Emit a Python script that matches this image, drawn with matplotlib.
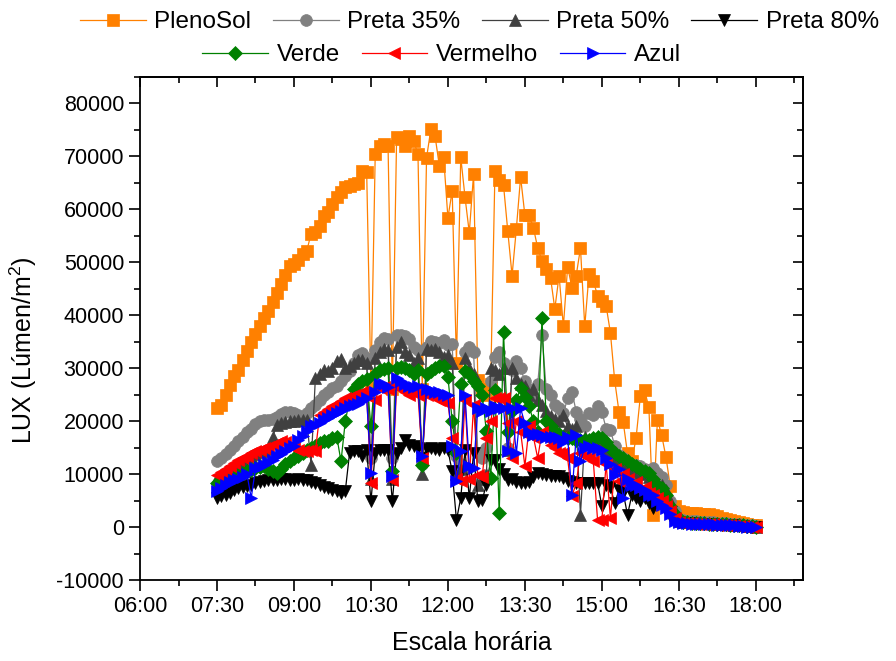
import numpy as np
import matplotlib
matplotlib.use("Agg")
import matplotlib.pyplot as plt
from matplotlib.ticker import MultipleLocator, FuncFormatter, NullFormatter

plt.rcParams['font.family'] = ['Liberation Sans', 'DejaVu Sans']
plt.rcParams['mathtext.fontset'] = 'custom'
plt.rcParams['mathtext.rm'] = 'Liberation Sans'
plt.rcParams['mathtext.default'] = 'regular'
plt.rcParams['axes.unicode_minus'] = False

# leituras a cada 5 min, de 07:30 ate 18:00 (horas decimais)
horas = np.arange(7.5, 18.0 + 1e-6, 5 / 60)

pleno_sol = [
    22400, 23000, 24900, 26900, 28600, 29600, 31500, 33300, 35000, 36500,
    38000, 39400, 40900, 42600, 44300, 46000, 47600, 49300, 49700, 50400,
    51500, 52200, 55400, 55700, 56900, 58800, 59500, 61000, 62300, 63300,
    64200, 64400, 64800, 65000, 67200, 67100, 26500, 70400, 71900, 72300,
    72000, 26000, 73600, 73300, 71900, 73800, 72900, 70400, 26000, 69700,
    75100, 73800, 68200, 69900, 58400, 63500, 31000, 69900, 62300, 55600,
    66700, 27700, 26000, 25000, 27000, 67200, 65500, 64600, 55900, 47500,
    56300, 66100, 58900, 58900, 56500, 52700, 50300, 48800, 47100, 41200,
    47500, 37900, 49200, 45200, 47500, 52700, 37900, 47800, 46500, 43700,
    42700, 41800, 36700, 27700, 21800, 19800, 13900, 12400, 16800, 24700,
    25800, 22600, 2300, 20300, 17300, 13200, 7700, 4000, 3000, 2800,
    2700, 2600, 2600, 2500, 2500, 2400, 2300, 2000, 1800, 1500,
    1300, 1100, 900, 700, 500, 400, 300]

preta_35 = [
    12400, 13000, 13800, 14500, 15300, 16200, 17000, 18000, 18600, 19500,
    20000, 20200, 20300, 20500, 20800, 21300, 21800, 21800, 21500, 21100,
    20500, 21500, 22500, 23000, 24000, 25000, 25600, 26200, 26700, 27500,
    28500, 29500, 31000, 32500, 32800, 32000, 13000, 33500, 35000, 35800,
    35500, 13000, 36200, 36300, 36000, 35600, 34000, 33500, 12000, 34000,
    35200, 35000, 34700, 35300, 34300, 34500, 13400, 12000, 33000, 34000,
    33000, 14000, 13000, 15000, 27500, 32200, 33100, 31000, 15000, 29600,
    31300, 30000, 27500, 26000, 24000, 27000, 36300, 26000, 24900, 23000,
    22400, 21500, 24300, 25600, 21800, 20500, 19000, 21500, 21100, 22800,
    21800, 18600, 18300, 15400, 13600, 13000, 12000, 11100, 11700, 11500,
    11000, 10700, 11100, 10200, 9500, 7900, 5000, 3000, 1500, 1300,
    1200, 1100, 1100, 1000, 1000, 900, 900, 800, 800, 700,
    600, 600, 500, 400, 300, 300, 200]

preta_50 = [
    9300, 9900, 10500, 11000, 11600, 12100, 12500, 13000, 13500, 13800,
    14100, 14400, 14700, 17100, 19200, 19600, 19800, 20000, 20000, 20200,
    20200, 20300, 11700, 28100, 29000, 29600, 29400, 30000, 31300, 31800,
    30000, 30500, 30900, 31500, 31500, 31000, 9000, 32000, 33000, 33700,
    33500, 9000, 34100, 35000, 33100, 32500, 31000, 32000, 10000, 33700,
    33500, 33700, 33000, 32200, 32500, 31000, 10000, 11000, 32000, 30000,
    29000, 8000, 9000, 10000, 30000, 29600, 29000, 30000, 14500, 30000,
    28100, 27000, 26600, 25000, 26000, 24000, 23000, 22000, 21000, 20500,
    20000, 21100, 19000, 18500, 19000, 2300, 17000, 16500, 16000, 15500,
    15000, 14500, 14000, 13000, 12500, 12000, 11500, 11000, 10500, 10200,
    10000, 9500, 9000, 8500, 8000, 7000, 5000, 3000, 1200, 1000,
    900, 900, 800, 800, 700, 700, 700, 600, 600, 500,
    500, 400, 400, 300, 200, 200, 100]

preta_80 = [
    5500, 5800, 6000, 6500, 7000, 7300, 7500, 7800, 8000, 8300,
    8600, 8700, 8800, 8900, 8900, 9000, 9000, 8900, 8900, 9000,
    8900, 8800, 8600, 8300, 8000, 7500, 7300, 7000, 6800, 6500,
    6800, 14000, 14300, 14300, 13500, 14500, 4900, 14000, 14500, 14500,
    14500, 4900, 14000, 15000, 16400, 15500, 15400, 15000, 13000, 14800,
    14900, 14800, 14500, 14900, 14500, 10500, 1300, 5500, 14500, 5500,
    13900, 5000, 5100, 8000, 12600, 12600, 11000, 10000, 8900, 9000,
    8500, 8300, 8300, 8500, 9500, 10200, 10000, 9800, 9700, 9600,
    9600, 9200, 8700, 8500, 8300, 8300, 8300, 8300, 8300, 8300,
    4000, 8000, 7500, 4500, 7000, 6500, 2300, 6000, 5500, 5000,
    5500, 4500, 3600, 4500, 4000, 3000, 2000, 1500, 1000, 800,
    700, 700, 600, 600, 500, 500, 500, 400, 400, 400,
    300, 300, 200, 200, 100, 100, 100]

verde = [
    8300, 8500, 8900, 9200, 9500, 9800, 10300, 10500, 10800, 11100,
    11300, 11500, 11000, 10500, 10200, 11000, 12000, 12500, 13000, 13500,
    14000, 14500, 14900, 15400, 15800, 16200, 16200, 16800, 17100, 12400,
    20000, 24000, 26000, 27100, 27500, 28000, 19000, 29000, 29600, 29800,
    30000, 10500, 30000, 30300, 30000, 29600, 29000, 29600, 11700, 29000,
    29500, 30000, 30500, 30500, 28400, 20000, 14000, 27000, 29400, 29000,
    27500, 26600, 25000, 18100, 9200, 25800, 2600, 36900, 18000, 22000,
    24000, 26200, 24500, 22800, 20000, 18000, 39400, 20000, 19000, 18000,
    17500, 17000, 16800, 16800, 16500, 16400, 16500, 16400, 16800, 17000,
    16800, 16000, 14900, 14000, 13500, 13000, 12500, 12000, 11500, 11000,
    10500, 10200, 9000, 8000, 7300, 6000, 4000, 2500, 1500, 1000,
    900, 800, 800, 700, 700, 600, 600, 500, 500, 500,
    400, 400, 300, 300, 200, 200, 100]

vermelho = [
    9800, 10400, 11000, 11500, 12100, 12600, 13000, 13500, 14000, 14300,
    14600, 14900, 15200, 15500, 15800, 16200, 16000, 15400, 14900, 14600,
    14300, 14300, 14500, 14300, 21100, 21800, 22300, 22800, 23300, 23900,
    24300, 24600, 24900, 25200, 25600, 25000, 8300, 24000, 26200, 26500,
    26000, 8900, 26500, 26000, 25500, 25000, 25500, 25000, 13000, 25000,
    24900, 24500, 24000, 23700, 23500, 16800, 9000, 8700, 24000, 9000,
    23000, 9800, 9500, 16800, 20000, 24300, 24300, 24300, 19600, 13000,
    20000, 18000, 11500, 19000, 17000, 13000, 18000, 16800, 15500, 15000,
    14000, 14000, 13000, 5800, 8300, 14000, 13500, 13000, 12500, 1300,
    1300, 12000, 1700, 11000, 8700, 10000, 9000, 7900, 8500, 7000,
    7500, 6500, 6000, 5500, 4900, 4000, 3000, 1800, 1000, 800,
    700, 700, 600, 600, 600, 500, 500, 400, 400, 300,
    300, 300, 200, 200, 100, 100, 100]

azul = [
    6800, 7300, 7900, 8600, 8800, 9000, 9500, 10000, 5500, 11100,
    11400, 11700, 12200, 12600, 13400, 13800, 14300, 14900, 15400, 16400,
    17200, 18100, 19000, 19200, 19700, 20200, 20600, 21100, 21500, 22000,
    22400, 22800, 23000, 23300, 23800, 24300, 10200, 25500, 27100, 27000,
    26500, 9600, 28100, 27500, 27000, 26700, 26500, 26700, 13400, 26000,
    25800, 25600, 25600, 25200, 24900, 15400, 8700, 14300, 25000, 11500,
    11100, 22400, 22000, 22400, 22000, 22800, 22400, 22400, 14300, 22400,
    13900, 22400, 19600, 18000, 17300, 17500, 17300, 17000, 17100, 17000,
    16800, 16000, 17000, 6000, 17300, 12400, 15000, 15400, 15000, 14900,
    14500, 13000, 12000, 9800, 11000, 5500, 9000, 7900, 8000, 7300,
    7000, 6000, 6000, 4900, 4200, 3600, 2500, 1100, 900, 700,
    700, 600, 600, 600, 500, 500, 500, 400, 400, 300,
    300, 300, 200, 200, 100, 100, 100]

series = [
    ('PlenoSol', pleno_sol, '#FF8000', 's', 8.0),
    ('Preta 35%', preta_35, '#808080', 'o', 8.5),
    ('Preta 50%', preta_50, '#404040', '^', 9.0),
    ('Preta 80%', preta_80, '#000000', 'v', 9.0),
    ('Verde', verde, '#008000', 'D', 7.5),
    ('Vermelho', vermelho, '#FF0000', '<', 9.0),
    ('Azul', azul, '#0000FF', '>', 9.0),
]

fig = plt.figure(figsize=(8.96, 6.61), dpi=100)
ax = fig.add_axes([0.1563, 0.1225, 0.7399, 0.761])

handles = []
for nome, valores, cor, marcador, tam in series:
    h, = ax.plot(horas, valores, color=cor, lw=0.9, marker=marcador, ms=tam,
                 mec=cor, mew=0.5, label=nome)
    handles.append(h)

ax.set_xlim(6.0, 18.92)
ax.set_ylim(-10000, 85000)

def fmt_hora(h, pos):
    minutos = int(round(h * 60))
    return f"{minutos // 60:02d}:{minutos % 60:02d}"

ax.xaxis.set_major_locator(MultipleLocator(1.5))
ax.xaxis.set_minor_locator(MultipleLocator(0.75))
ax.xaxis.set_major_formatter(FuncFormatter(fmt_hora))
ax.yaxis.set_major_locator(MultipleLocator(10000))
ax.yaxis.set_minor_locator(MultipleLocator(5000))

ax.tick_params(which='both', direction='out', width=1.2, labelsize=15.5)
ax.tick_params(which='major', length=8)
ax.tick_params(which='minor', length=4)
for s in ax.spines.values():
    s.set_linewidth(1.3)

# eixos de cima e da direita com marcas para dentro
topo = ax.secondary_xaxis('top')
topo.xaxis.set_major_locator(MultipleLocator(1.5))
topo.xaxis.set_minor_locator(MultipleLocator(0.75))
topo.xaxis.set_major_formatter(NullFormatter())
topo.tick_params(which='both', direction='in', width=1.2)
topo.tick_params(which='major', length=7)
topo.tick_params(which='minor', length=4)
topo.spines['top'].set_linewidth(1.3)

direita = ax.secondary_yaxis('right')
direita.yaxis.set_major_locator(MultipleLocator(10000))
direita.yaxis.set_minor_locator(MultipleLocator(5000))
direita.yaxis.set_major_formatter(NullFormatter())
direita.tick_params(which='both', direction='in', width=1.2)
direita.tick_params(which='major', length=7)
direita.tick_params(which='minor', length=4)
direita.spines['right'].set_linewidth(1.3)

ax.set_xlabel('Escala horária', fontsize=18, labelpad=10)
ax.set_ylabel('LUX (Lúmen/m$^2$)', fontsize=18)
ax.yaxis.set_label_coords(-0.152, 0.457)

leg_kw = dict(frameon=False, fontsize=17.5, handlelength=2.7,
              handletextpad=0.35, columnspacing=0.9, borderpad=0.1)
fig.legend(handles=handles[:4], ncol=4, loc='center',
           bbox_to_anchor=(0.535, 1 - 22 / 661), **leg_kw)
fig.legend(handles=handles[4:], ncol=3, loc='center',
           bbox_to_anchor=(0.493, 1 - 55 / 661), **leg_kw)

fig.savefig('out.png', dpi=100)
